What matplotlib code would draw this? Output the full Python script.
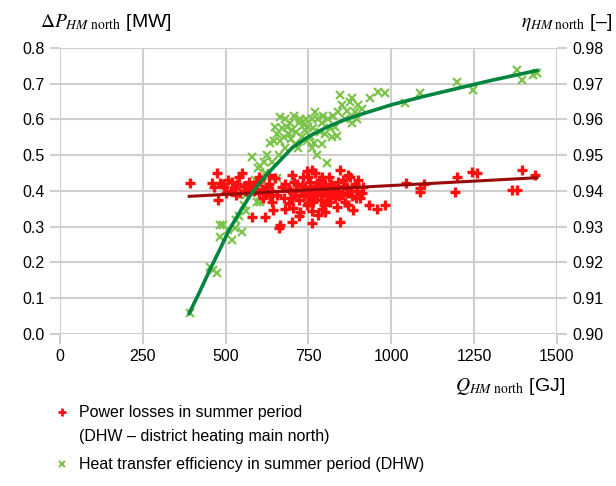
import numpy as np
import matplotlib
matplotlib.use("Agg")
import matplotlib.pyplot as plt
from matplotlib.lines import Line2D

plt.rcParams["font.family"] = ["Liberation Sans", "DejaVu Sans"]
plt.rcParams["mathtext.fontset"] = "stix"

# ---------------- DATA ----------------
# power losses in summer period (Q [GJ], dP [MW])
loss_q = [392, 458, 473, 477, 483, 495, 507, 515, 528, 535, 540, 543, 548, 555, 560,
          570, 579, 580, 590, 600, 600, 605, 612, 619, 625, 630, 630, 640, 640, 643,
          650, 655, 660, 664, 670, 675, 680, 680, 690, 695, 699, 700, 704, 710, 715,
          720, 720, 724, 728, 732, 735, 740, 745, 745, 749, 752, 755, 758, 760, 760,
          762, 765, 770, 772, 775, 779, 782, 785, 788, 790, 795, 798, 800, 800, 805,
          810, 812, 815, 820, 825, 830, 835, 838, 840, 845, 845, 850, 855, 860, 865,
          870, 875, 880, 885, 890, 895, 900, 905, 933, 957, 981, 1044, 1087, 1087,
          1100, 1192, 1197, 1243, 1258, 1363, 1380, 1395, 1434,
          465, 490, 500, 520, 530, 565, 585, 595, 610, 620, 635, 690, 705, 712, 730,
          738, 748, 756, 768, 778, 792, 803, 818, 828, 842, 858, 868, 878, 892, 910,
          915, 870, 760, 790, 700]
loss_p = [0.421, 0.422, 0.450, 0.375, 0.422, 0.410, 0.431, 0.400, 0.408, 0.420, 0.440,
          0.394, 0.450, 0.415, 0.400, 0.425, 0.328, 0.405, 0.418, 0.395, 0.440, 0.430,
          0.380, 0.328, 0.410, 0.420, 0.445, 0.400, 0.370, 0.347, 0.435, 0.390, 0.296,
          0.305, 0.410, 0.380, 0.420, 0.350, 0.365, 0.400, 0.314, 0.445, 0.352, 0.390,
          0.420, 0.375, 0.330, 0.342, 0.400, 0.440, 0.385, 0.410, 0.360, 0.455, 0.366,
          0.395, 0.425, 0.380, 0.460, 0.310, 0.405, 0.370, 0.450, 0.415, 0.390, 0.333,
          0.400, 0.430, 0.375, 0.410, 0.395, 0.360, 0.420, 0.340, 0.385, 0.405, 0.440,
          0.370, 0.395, 0.415, 0.380, 0.355, 0.425, 0.400, 0.459, 0.314, 0.390, 0.430,
          0.370, 0.410, 0.395, 0.440, 0.385, 0.347, 0.420, 0.400, 0.430, 0.380, 0.361,
          0.350, 0.361, 0.423, 0.407, 0.398, 0.420, 0.396, 0.440, 0.454, 0.450, 0.403,
          0.403, 0.459, 0.445,
          0.410, 0.420, 0.395, 0.425, 0.390, 0.410, 0.400, 0.425, 0.405, 0.395, 0.385,
          0.405, 0.425, 0.400, 0.415, 0.395, 0.440, 0.405, 0.385, 0.420, 0.440, 0.400,
          0.420, 0.405, 0.385, 0.415, 0.445, 0.400, 0.380, 0.395, 0.410, 0.360, 0.345,
          0.350, 0.380]

# heat transfer efficiency in summer period (Q [GJ], eta [-])
eff_q = [392, 453, 462, 473, 483, 483, 492, 507, 518, 528, 540, 548, 560, 579, 585,
         594, 598, 604, 613, 620, 634, 640, 650, 654, 660, 664, 665, 670, 680, 680,
         690, 695, 700, 705, 710, 720, 724, 730, 740, 745, 750, 760, 760, 770, 775,
         780, 785, 790, 800, 805, 810, 820, 830, 840, 845, 860, 875, 890, 900, 936,
         960, 981, 1041, 1087, 1197, 1247, 1378, 1393, 1428, 1440,
         600, 615, 625, 645, 655, 675, 685, 698, 712, 718, 735, 742, 755, 765, 768,
         790, 795, 815, 825, 835, 850, 865, 880, 895, 910, 530, 555, 570, 590, 605,
         560, 880]
eff_eta = [0.9058, 0.9188, 0.9180, 0.9170, 0.9272, 0.9305, 0.9305, 0.9291, 0.9263,
           0.9296, 0.9330, 0.9286, 0.9345, 0.9496, 0.9400, 0.9370, 0.9464, 0.9370,
           0.9426, 0.9450, 0.9534, 0.9480, 0.9580, 0.9436, 0.9500, 0.9608, 0.9540,
           0.9575, 0.9520, 0.9600, 0.9560, 0.9590, 0.9570, 0.9610, 0.9530, 0.9590,
           0.9600, 0.9550, 0.9570, 0.9540, 0.9580, 0.9600, 0.9520, 0.9620, 0.9500,
           0.9600, 0.9565, 0.9530, 0.9560, 0.9477, 0.9600, 0.9550, 0.9580, 0.9620,
           0.9669, 0.9600, 0.9650, 0.9620, 0.9640, 0.9659, 0.9676, 0.9673, 0.9646,
           0.9673, 0.9706, 0.9683, 0.9738, 0.9710, 0.9724, 0.9730,
           0.9400, 0.9480, 0.9500, 0.9540, 0.9560, 0.9550, 0.9580, 0.9545, 0.9565,
           0.9520, 0.9585, 0.9600, 0.9555, 0.9575, 0.9535, 0.9590, 0.9610, 0.9575,
           0.9610, 0.9555, 0.9640, 0.9625, 0.9590, 0.9600, 0.9630, 0.9320, 0.9360,
           0.9405, 0.9430, 0.9470, 0.9390, 0.9660]

# trend lines
loss_trend_q = [390, 1440]
loss_trend_p = [0.385, 0.437]
eff_trend_q = [390, 420, 450, 480, 510, 540, 570, 600, 630, 660, 700, 750, 800,
               850, 900, 1000, 1100, 1200, 1300, 1440]
eff_trend_eta = [0.9058, 0.9115, 0.9175, 0.9232, 0.9290, 0.9337, 0.9382, 0.9420,
                 0.9452, 0.9481, 0.9520, 0.9552, 0.9576, 0.9596, 0.9612, 0.9641,
                 0.9665, 0.9687, 0.9709, 0.9737]

x_ticks = [0, 250, 500, 750, 1000, 1250, 1500]
left_ticks = [0.0, 0.1, 0.2, 0.3, 0.4, 0.5, 0.6, 0.7, 0.8]
right_ticks = [0.90, 0.91, 0.92, 0.93, 0.94, 0.95, 0.96, 0.97, 0.98]

RED = "#ff1010"
DARKRED = "#9b0a0a"
LGREEN = "#7cc44c"
DGREEN = "#00853f"
GRID = "#cfcfcf"

# ---------------- FIGURE ----------------
fig = plt.figure(figsize=(6.16, 4.86), dpi=100)
ax = fig.add_axes([0.0974, 0.3128, 0.8068, 0.5885])
ax2 = ax.twinx()

ax.set_xlim(0, 1500)
ax.set_ylim(0, 0.8)
ax2.set_ylim(0.90, 0.98)

ax.plot(eff_q, eff_eta, ls="none", marker="x", ms=6, mew=1.6, color=LGREEN,
        transform=ax2.transData, zorder=2)
ax.plot(loss_q, loss_p, ls="none", marker="+", ms=7.5, mew=2.4, color=RED, zorder=3)
ax.plot(loss_trend_q, loss_trend_p, color=DARKRED, lw=2.2, zorder=4)
ax.plot(eff_trend_q, eff_trend_eta, color=DGREEN, lw=2.6, solid_joinstyle="round",
        transform=ax2.transData, zorder=5)

ax.set_xticks(x_ticks)
ax.set_yticks(left_ticks)
ax.set_yticklabels([f"{v:.1f}" for v in left_ticks])
ax2.set_yticks(right_ticks)
ax2.set_yticklabels([f"{v:.2f}" for v in right_ticks])

ax.grid(True, color=GRID, lw=1.5)
ax.set_axisbelow(True)
for a in (ax, ax2):
    for s in a.spines.values():
        s.set_visible(False)
ax.tick_params(axis="both", length=7, width=1.5, color=GRID, labelsize=11.5, pad=4)
ax2.tick_params(axis="y", length=7, width=1.5, color=GRID, labelsize=11.5, pad=4)

# axis titles
fig.text(0.065, 0.944, r"$\Delta P_{HM\ \mathrm{north}}$ [MW]", fontsize=14,
         ha="left", va="baseline")
fig.text(0.994, 0.944, r"$\eta_{HM\ \mathrm{north}}$ [–]", fontsize=14,
         ha="right", va="baseline")
fig.text(0.918, 0.195, r"$Q_{HM\ \mathrm{north}}$ [GJ]", fontsize=14,
         ha="right", va="baseline")

# legend below the plot
fig.add_artist(Line2D([0.101], [0.152], marker="+", ms=6, mew=2, color=RED,
                      transform=fig.transFigure))
fig.text(0.128, 0.152, "Power losses in summer period", fontsize=11.5, va="center")
fig.text(0.128, 0.101, "(DHW – district heating main north)", fontsize=11.5, va="center")
fig.add_artist(Line2D([0.101], [0.045], marker="x", ms=5, mew=1.5, color=LGREEN,
                      transform=fig.transFigure))
fig.text(0.128, 0.045, "Heat transfer efficiency in summer period (DHW)", fontsize=11.5,
         va="center")

fig.savefig("out.png", dpi=100)
